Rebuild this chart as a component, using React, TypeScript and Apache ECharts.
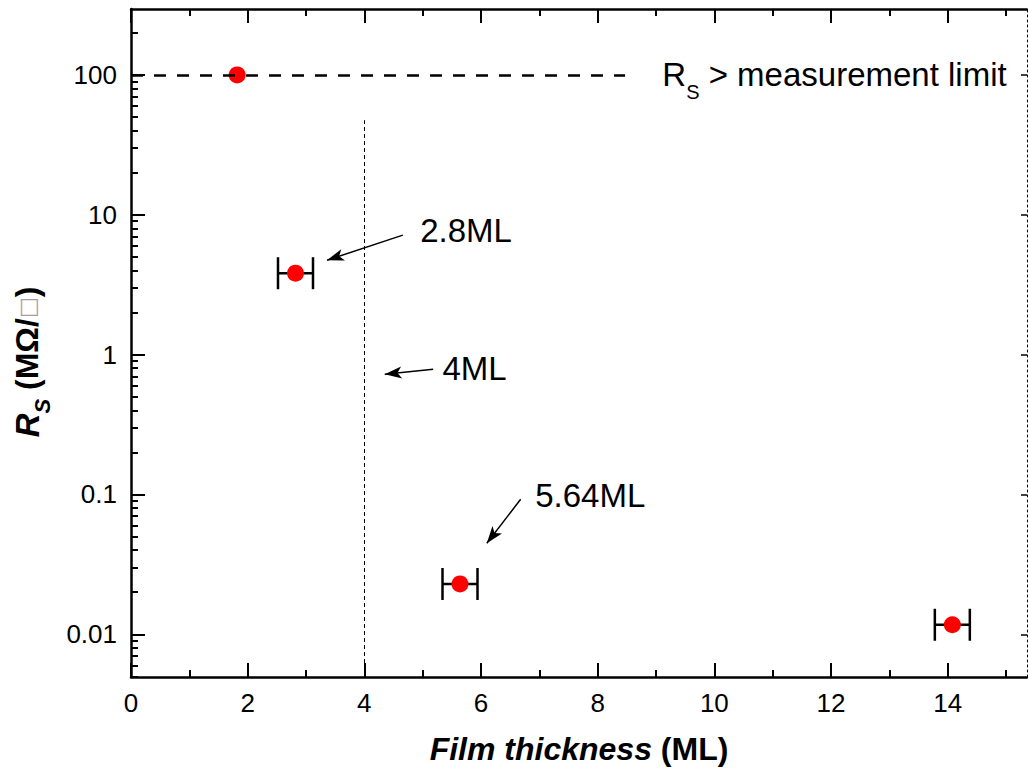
import React, { useEffect, useRef } from 'react';
import * as echarts from 'echarts';

// ---- axes ----
const xMin = 0;
const xMax = 15.36;
const yMin = 0.00495;
const yMax = 296;
const xMajorTicks = [0, 2, 4, 6, 8, 10, 12, 14];
const xMinorTicks = [1, 3, 5, 7, 9, 11, 13, 15];
const yMajorTicks = [0.01, 0.1, 1, 10, 100];
const yTickLabels = ['0.01', '0.1', '1', '10', '100'];
const yMinorTicks = [
  0.005, 0.006, 0.007, 0.008, 0.009,
  0.02, 0.03, 0.04, 0.05, 0.06, 0.07, 0.08, 0.09,
  0.2, 0.3, 0.4, 0.5, 0.6, 0.7, 0.8, 0.9,
  2, 3, 4, 5, 6, 7, 8, 9,
  20, 30, 40, 50, 60, 70, 80, 90, 200,
];

// ---- data ----
const thickness = [1.82, 2.82, 5.64, 14.08];
const resistance = [100, 3.82, 0.0229, 0.0117];
const thicknessErr = [0, 0.3, 0.3, 0.3];

// ---- reference lines ----
const limitValue = 100;
const limitLineEndX = 8.47;
const criticalThickness = 4;
const criticalLineTopY = 47.4;

// ---- annotations ----
const annotationLabels = ['2.8ML', '4ML', '5.64ML'];
const annotationTextAt = [[4.95, 7.73], [5.33, 0.798], [6.92, 0.0986]];
const arrowFrom = [[4.66, 7.15], [5.18, 0.785], [6.68, 0.0924]];
const arrowTo = [[3.36, 4.73], [4.35, 0.723], [6.1, 0.0448]];
const limitLabel = '{r|R}{s|S}{r| > measurement limit}';
const limitLabelAt = [9.1, 100];

const FONT = '"Liberation Sans", Arial, Helvetica, sans-serif';

export default function App() {
  const ref = useRef<HTMLDivElement>(null);

  useEffect(() => {
    if (!ref.current) return;
    const chart = echarts.init(ref.current, null, { renderer: 'svg' });

    const axisLineStyle = { color: '#000', width: 2.5 };
    const majorTick = { inside: true, length: 14, lineStyle: { color: '#000', width: 2 } };
    const minorTick = { inside: true, length: 7, lineStyle: { color: '#000', width: 2 } };

    const xBase = { type: 'value', min: xMin, max: xMax, splitLine: { show: false }, gridIndex: 0 };
    const yBase = { type: 'log', logBase: 10, min: yMin, max: yMax, splitLine: { show: false }, gridIndex: 0 };

    const scatterData = thickness.map((x, i) => [x, resistance[i]]);
    const errData = thickness
      .map((x, i) => [x, resistance[i], thicknessErr[i]])
      .filter((d) => d[2] > 0);

    const markLines: any[] = [
      [
        { coord: [xMin, limitValue], symbol: 'none', lineStyle: { type: [12, 11], width: 2.5, color: '#000' } },
        { coord: [limitLineEndX, limitValue], symbol: 'none' },
      ],
      [
        { coord: [criticalThickness, yMin], symbol: 'none', lineStyle: { type: [4, 3], width: 1, color: '#000' } },
        { coord: [criticalThickness, criticalLineTopY], symbol: 'none' },
      ],
    ];
    arrowFrom.forEach((f, i) => {
      markLines.push([
        { coord: f, symbol: 'none', lineStyle: { type: 'solid', width: 1.5, color: '#000' } },
        { coord: arrowTo[i], symbol: 'arrow', symbolSize: [9, 17] },
      ]);
    });

    const markPoints: any[] = annotationLabels.map((name, i) => ({
      name,
      coord: annotationTextAt[i],
    }));
    markPoints.push({ name: limitLabel, coord: limitLabelAt });

    chart.setOption({
      animation: false,
      backgroundColor: '#fff',
      grid: {
        left: 131,
        right: 1,
        top: 9,
        bottom: 97,
        containLabel: false,
        outerBoundsMode: 'none',
      },
      xAxis: [
        {
          ...xBase,
          position: 'bottom',
          axisLine: { show: true, onZero: false, lineStyle: axisLineStyle },
          axisTick: { ...majorTick, customValues: xMajorTicks },
          axisLabel: {
            customValues: xMajorTicks,
            color: '#000',
            fontSize: 26,
            fontFamily: FONT,
            margin: 13,
          },
          name: '{i|Film thickness}{b| (ML)}',
          nameLocation: 'middle',
          nameGap: 56,
          nameTextStyle: {
            rich: {
              i: { fontSize: 32, fontWeight: 'bold', fontStyle: 'italic', fontFamily: FONT, color: '#000' },
              b: { fontSize: 32, fontWeight: 'bold', fontFamily: FONT, color: '#000' },
            },
          },
        },
        {
          ...xBase,
          position: 'bottom',
          axisLine: { show: false, onZero: false },
          axisTick: { ...minorTick, customValues: xMinorTicks },
          axisLabel: { show: false },
        },
        {
          ...xBase,
          position: 'top',
          axisLine: { show: true, onZero: false, lineStyle: axisLineStyle },
          axisTick: { ...majorTick, customValues: xMajorTicks },
          axisLabel: { show: false },
        },
        {
          ...xBase,
          position: 'top',
          axisLine: { show: false, onZero: false },
          axisTick: { ...minorTick, customValues: xMinorTicks },
          axisLabel: { show: false },
        },
      ],
      yAxis: [
        {
          ...yBase,
          position: 'left',
          axisLine: { show: true, onZero: false, lineStyle: axisLineStyle },
          axisTick: { ...majorTick, customValues: yMajorTicks },
          axisLabel: {
            customValues: yMajorTicks,
            color: '#000',
            fontSize: 26,
            fontFamily: FONT,
            margin: 14,
            formatter: (v: number) => {
              const i = yMajorTicks.findIndex((t) => Math.abs(Math.log10(t) - Math.log10(v)) < 0.01);
              return i >= 0 ? yTickLabels[i] : '';
            },
          },
          name: '{ri|R}{si|S}{b| (MΩ/}{box|□}{b|)}',
          nameLocation: 'middle',
          nameGap: 86,
          nameTextStyle: {
            padding: [0, 38, 0, 0],
            rich: {
              ri: { fontSize: 33, fontWeight: 'bold', fontStyle: 'italic', fontFamily: FONT, color: '#000', lineHeight: 36 },
              si: { fontSize: 22, fontWeight: 'bold', fontStyle: 'italic', fontFamily: FONT, color: '#000', lineHeight: 22, padding: [30, 0, 0, 0] },
              b: { fontSize: 32, fontWeight: 'bold', fontFamily: FONT, color: '#000', lineHeight: 36 },
              box: { fontSize: 22, fontFamily: '"DejaVu Sans", sans-serif', color: '#b09aa0', lineHeight: 36 },
            },
          },
        },
        {
          ...yBase,
          position: 'left',
          axisLine: { show: false, onZero: false },
          axisTick: { ...minorTick, customValues: yMinorTicks },
          axisLabel: { show: false },
        },
        {
          ...yBase,
          position: 'right',
          axisLine: { show: true, onZero: false, lineStyle: { color: '#000', width: 1, type: [2, 3] } },
          axisTick: { inside: true, length: 6, lineStyle: { color: '#000', width: 1.5 }, customValues: yMajorTicks },
          axisLabel: { show: false },
        },
      ],
      series: [
        {
          type: 'custom',
          name: 'error',
          xAxisIndex: 0,
          yAxisIndex: 0,
          z: 3,
          silent: true,
          data: errData,
          renderItem: (params: any, api: any) => {
            const x = api.value(0);
            const y = api.value(1);
            const e = api.value(2);
            const l = api.coord([x - e, y]);
            const r = api.coord([x + e, y]);
            const h = 16;
            const st = { stroke: '#000', lineWidth: 2.5 };
            return {
              type: 'group',
              children: [
                { type: 'line', shape: { x1: l[0], y1: l[1], x2: r[0], y2: r[1] }, style: st },
                { type: 'line', shape: { x1: l[0], y1: l[1] - h, x2: l[0], y2: l[1] + h }, style: st },
                { type: 'line', shape: { x1: r[0], y1: r[1] - h, x2: r[0], y2: r[1] + h }, style: st },
              ],
            };
          },
        },
        {
          type: 'scatter',
          name: 'Rs',
          xAxisIndex: 0,
          yAxisIndex: 0,
          z: 4,
          symbol: 'circle',
          symbolSize: 17,
          itemStyle: { color: '#ff0000', opacity: 1 },
          data: scatterData,
          markLine: {
            silent: true,
            animation: false,
            label: { show: false },
            symbol: ['none', 'none'],
            data: markLines,
          },
          markPoint: {
            silent: true,
            animation: false,
            symbol: 'circle',
            symbolSize: 1,
            itemStyle: { color: 'rgba(0,0,0,0)' },
            label: {
              show: true,
              position: 'right',
              distance: 0,
              color: '#000',
              fontSize: 33,
              fontFamily: FONT,
              formatter: (p: any) => p.name,
              rich: {
                r: { fontSize: 33, fontFamily: FONT, color: '#000', lineHeight: 36 },
                s: { fontSize: 20, fontFamily: FONT, color: '#000', lineHeight: 20, padding: [34, 0, 0, 0] },
              },
            },
            data: markPoints,
          },
        },
      ],
    });

    return () => chart.dispose();
  }, []);

  return (
    <div
      ref={ref}
      style={{ position: 'absolute', left: 0, top: 0, width: 1028, height: 774, background: '#fff' }}
    />
  );
}
